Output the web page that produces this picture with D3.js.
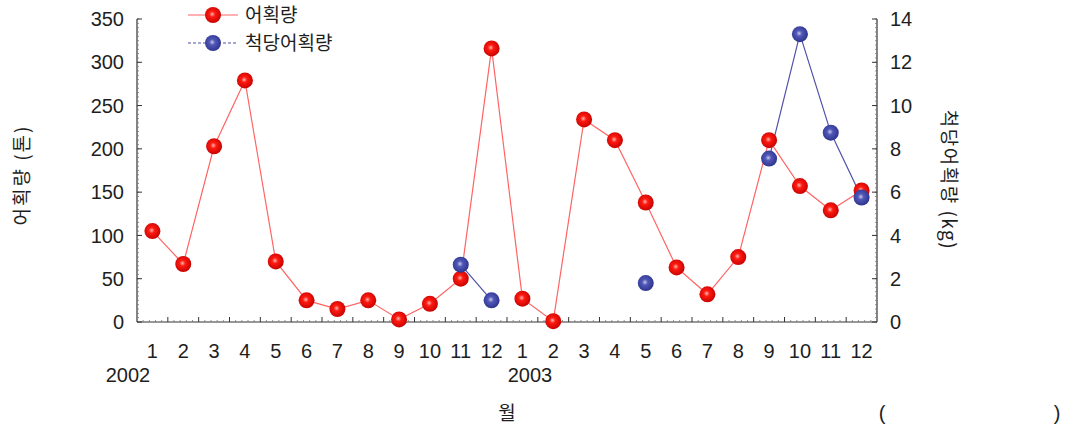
<!DOCTYPE html>
<html><head><meta charset="utf-8">
<script src="https://cdn.jsdelivr.net/npm/d3@7"></script>
<style>body{margin:0;background:#fff}svg{display:block}</style>
</head><body>
<svg id="c" width="1067" height="430"></svg>
<script>
const months = ["1","2","3","4","5","6","7","8","9","10","11","12","1","2","3","4","5","6","7","8","9","10","11","12"];
const years = ["2002","2003"];
const catch_ton = [105,67,203,279,70,25,15,25,3,21,50,316,27,1,234,210,138,63,32,75,210,157,129,152];
const cpue_kg = [null,null,null,null,null,null,null,null,null,null,2.65,1.0,null,null,null,null,1.8,null,null,null,7.55,13.3,8.75,5.75];
const leftTicks = [0,50,100,150,200,250,300,350];
const rightTicks = [0,2,4,6,8,10,12,14];
const seriesNames = ["어획량","척당어획량"];

const svg = d3.select("#c");
const L = 137, R = 877, T = 19, B = 322;
const idx = d3.range(months.length);
const x = d3.scaleBand().domain(idx).range([L, R]);
const yL = d3.scaleLinear().domain([0,350]).range([B, T]);
const yR = d3.scaleLinear().domain([0,14]).range([B, T]);
const font = "'Liberation Sans', Arial, sans-serif";
const kfont = "'Noto Sans CJK KR', sans-serif";
const txt = "#1e1e1e";

const defs = svg.append("defs");
function grad(id, c0, c1, c2){
  const g = defs.append("radialGradient").attr("id", id).attr("cx","45%").attr("cy","45%").attr("r","60%");
  g.append("stop").attr("offset","0%").attr("stop-color", c0);
  g.append("stop").attr("offset","30%").attr("stop-color", c1);
  g.append("stop").attr("offset","100%").attr("stop-color", c2);
}
grad("gr", "#ffb8b0", "#ff1a10", "#c00000");
grad("gb", "#c8c8e8", "#5058b8", "#2a2f88");

// axes lines
const axisColor = "#333";
svg.append("line").attr("x1", L).attr("x2", L).attr("y1", T).attr("y2", B).attr("stroke", axisColor).attr("stroke-width", 1.2);
svg.append("line").attr("x1", R).attr("x2", R).attr("y1", T).attr("y2", B).attr("stroke", axisColor).attr("stroke-width", 1.2);
svg.append("line").attr("x1", L).attr("x2", R).attr("y1", B).attr("y2", B).attr("stroke", axisColor).attr("stroke-width", 1.2);

// minor ticks left & right
d3.range(0, 351, 5).forEach(v => {
  svg.append("line").attr("x1", L).attr("x2", L+2).attr("y1", yL(v)).attr("y2", yL(v)).attr("stroke", "#777").attr("stroke-width", 0.8);
});
d3.range(0, 14.01, 0.2).forEach(v => {
  svg.append("line").attr("x1", R-2).attr("x2", R).attr("y1", yR(v)).attr("y2", yR(v)).attr("stroke", "#777").attr("stroke-width", 0.8);
});
// major ticks
leftTicks.forEach(v => {
  svg.append("line").attr("x1", L).attr("x2", L+5).attr("y1", yL(v)).attr("y2", yL(v)).attr("stroke", axisColor);
  svg.append("text").attr("x", 124).attr("y", yL(v)).attr("dy","0.36em").attr("text-anchor","end")
    .attr("font-family", font).attr("font-size", 20).attr("fill", txt).text(v);
});
rightTicks.forEach(v => {
  svg.append("line").attr("x1", R-5).attr("x2", R).attr("y1", yR(v)).attr("y2", yR(v)).attr("stroke", axisColor);
  svg.append("text").attr("x", 890).attr("y", yR(v)).attr("dy","0.36em").attr("text-anchor","start")
    .attr("font-family", font).attr("font-size", 20).attr("fill", txt).text(v);
});
// x ticks at band boundaries
const bw = x.bandwidth();
idx.forEach(i => {
  const bx = x(i);
  if (i > 0) svg.append("line").attr("x1", bx).attr("x2", bx).attr("y1", B).attr("y2", B-5).attr("stroke", axisColor);
  for (let k = 1; k < 5; k++) {
    const mx = bx + bw*k/5;
    svg.append("line").attr("x1", mx).attr("x2", mx).attr("y1", B).attr("y2", B-2).attr("stroke", "#777").attr("stroke-width", 0.8);
  }
  svg.append("text").attr("x", bx + bw/2).attr("y", 358).attr("text-anchor","middle")
    .attr("font-family", font).attr("font-size", 20).attr("fill", txt).text(months[i]);
});
svg.append("text").attr("x", 128).attr("y", 382).attr("text-anchor","middle")
  .attr("font-family", font).attr("font-size", 20).attr("fill", txt).text(years[0]);
svg.append("text").attr("x", 530).attr("y", 382).attr("text-anchor","middle")
  .attr("font-family", font).attr("font-size", 20).attr("fill", txt).text(years[1]);

// axis titles
svg.append("text").attr("transform","translate(29,175) rotate(-90)").attr("text-anchor","middle")
  .attr("font-family", kfont).attr("font-size", 19).attr("letter-spacing", 2).attr("fill", txt).text("어획량 (톤)");
svg.append("text").attr("transform","translate(942,180) rotate(90)").attr("text-anchor","middle")
  .attr("font-family", kfont).attr("font-size", 19).attr("letter-spacing", 1.5).attr("fill", txt).text("척당어획량 (kg)");
svg.append("text").attr("x", 507).attr("y", 420).attr("text-anchor","middle")
  .attr("font-family", kfont).attr("font-size", 19).attr("fill", txt).text("월");
svg.append("text").attr("x", 882).attr("y", 420).attr("text-anchor","middle")
  .attr("font-family", font).attr("font-size", 20).attr("fill", txt).text("(");
svg.append("text").attr("x", 1057).attr("y", 420).attr("text-anchor","middle")
  .attr("font-family", font).attr("font-size", 20).attr("fill", txt).text(")");

// lines
const cx = i => x(i) + bw/2;
const lineRed = d3.line().x((d,i)=>cx(i)).y(d=>yL(d));
svg.append("path").attr("d", lineRed(catch_ton)).attr("fill","none").attr("stroke","#ff6464").attr("stroke-width",1.2);
const lineBlue = d3.line().defined(d=>d!==null).x((d,i)=>cx(i)).y(d=>yR(d));
svg.append("path").attr("d", lineBlue(cpue_kg)).attr("fill","none").attr("stroke","#5050a8").attr("stroke-width",1.2);

// markers
function marker(px, py, g){
  svg.append("circle").attr("cx", px).attr("cy", py).attr("r", 8).attr("fill", `url(#${g})`);
}
catch_ton.forEach((d,i)=>marker(cx(i), yL(d), "gr"));
cpue_kg.forEach((d,i)=>{ if (d!==null) marker(cx(i), yR(d), "gb"); });

// legend
svg.append("line").attr("x1",188).attr("x2",238).attr("y1",15).attr("y2",15).attr("stroke","#ff6464").attr("stroke-width",1.2);
marker(213,15,"gr");
svg.append("text").attr("x",245).attr("y",15).attr("dy","0.36em").attr("font-family",kfont).attr("font-size",19).attr("fill",txt).text(seriesNames[0]);
svg.append("line").attr("x1",188).attr("x2",238).attr("y1",43).attr("y2",43).attr("stroke","#5050a8").attr("stroke-width",1.2).attr("stroke-dasharray","3,2");
marker(213,43,"gb");
svg.append("text").attr("x",245).attr("y",43).attr("dy","0.36em").attr("font-family",kfont).attr("font-size",19).attr("fill",txt).text(seriesNames[1]);
</script>
</body></html>
